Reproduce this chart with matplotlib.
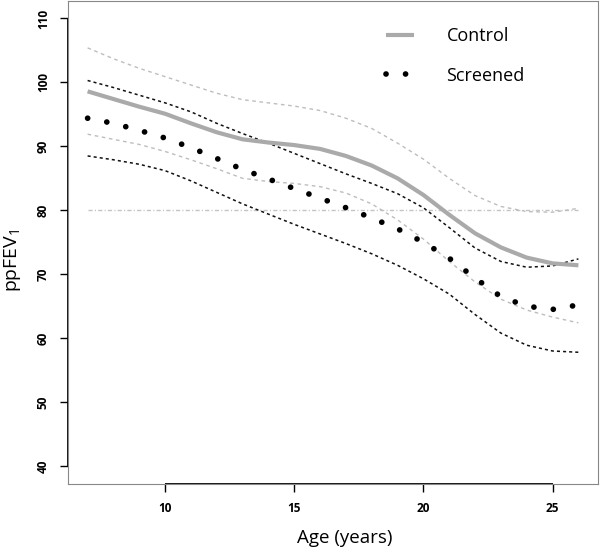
import numpy as np
import matplotlib.pyplot as plt

plt.rcParams['font.family'] = ['Open Sans', 'DejaVu Sans']
plt.rcParams['mathtext.fontset'] = 'custom'
plt.rcParams['mathtext.rm'] = 'Open Sans'
plt.rcParams['mathtext.it'] = 'Open Sans'
plt.rcParams['mathtext.default'] = 'regular'

# --- data (ppFEV1 by age) ---
age = [7, 8, 9, 10, 11, 12, 13, 14, 15, 16, 17, 18, 19, 20, 21, 22, 23, 24, 25, 26]

control = [98.6, 97.4, 96.2, 95.1, 93.6, 92.2, 91.1, 90.6, 90.2, 89.6,
           88.5, 87.0, 85.0, 82.4, 79.3, 76.4, 74.2, 72.6, 71.7, 71.4]
control_upper = [105.4, 103.7, 102.2, 100.9, 99.6, 98.3, 97.3, 96.8, 96.3, 95.6,
                 94.4, 92.8, 90.5, 88.0, 85.0, 82.3, 80.6, 79.8, 79.7, 80.3]
control_lower = [91.9, 91.1, 90.3, 89.2, 87.9, 86.5, 85.0, 84.5, 84.2, 83.7,
                 82.7, 81.0, 78.5, 75.5, 72.0, 68.8, 66.1, 64.4, 63.3, 62.4]

screened = [94.4, 93.6, 92.5, 91.3, 89.8, 88.1, 86.4, 84.9, 83.4, 81.9,
            80.4, 78.8, 77.1, 75.0, 72.5, 69.4, 66.5, 65.0, 64.5, 65.2]
screened_upper = [100.3, 99.2, 98.0, 96.8, 95.4, 93.6, 92.0, 90.5, 88.9, 87.3,
                  85.7, 84.2, 82.6, 80.4, 77.3, 74.1, 72.0, 71.1, 71.3, 72.4]
screened_lower = [88.5, 87.9, 87.2, 86.2, 84.6, 82.8, 81.0, 79.4, 77.8, 76.3,
                  74.8, 73.2, 71.4, 69.3, 66.9, 63.7, 60.8, 58.9, 58.0, 57.8]

ref_age = [7, 26]
ref_value = [80, 80]

x_ticks = [10, 15, 20, 25]
y_ticks = [40, 50, 60, 70, 80, 90, 100, 110]

# --- plotting ---
fig = plt.figure(figsize=(6, 5.5), dpi=100)
ax = fig.add_axes([0.1133, 0.12, 0.8834, 0.879])

# R-style 4% padding around data range
xmin, xmax = 7 - 0.04 * 19, 26 + 0.04 * 19
ymin, ymax = 40 - 0.04 * 70, 110 + 0.04 * 70
ax.set_xlim(xmin, xmax)
ax.set_ylim(ymin, ymax)

ax.plot(ref_age, ref_value, color='#c4c4c4', lw=1.0,
        linestyle=(0, (3.0, 1.6, 0.8, 1.6)))

ax.plot(age, control_upper, color='#bdbdbd', lw=1.0, linestyle=(0, (2.6, 2.6)))
ax.plot(age, control_lower, color='#bdbdbd', lw=1.0, linestyle=(0, (2.6, 2.6)))
ax.plot(age, screened_upper, color='#111111', lw=1.1, linestyle=(0, (2, 2)))
ax.plot(age, screened_lower, color='#111111', lw=1.1, linestyle=(0, (2, 2)))

ln_c, = ax.plot(age, control, color='#aaaaaa', lw=3.0, solid_capstyle='butt')
ln_s, = ax.plot(age, screened, color='black', lw=4.1,
                linestyle=(0, (0.01, 3.42)), dash_capstyle='round')

# frame + R-like axis lines over tick range
for s in ax.spines.values():
    s.set_color('#888888')
    s.set_linewidth(0.8)
ax.plot([x_ticks[0], x_ticks[-1]], [ymin, ymin], color='black', lw=1.3,
        clip_on=False, solid_capstyle='butt')
ax.plot([xmin, xmin], [y_ticks[0], y_ticks[-1]], color='black', lw=1.3,
        clip_on=False, solid_capstyle='butt')

ax.set_xticks(x_ticks)
ax.set_yticks(y_ticks)
ax.tick_params(axis='both', length=6, width=1, color='black', labelsize=8.5)
ax.tick_params(axis='x', pad=7)
ax.tick_params(axis='y', pad=7)
for lab in ax.get_xticklabels():
    lab.set_fontweight('bold')
for lab in ax.get_yticklabels():
    lab.set_fontweight('bold')
    lab.set_rotation(90)
    lab.set_va('center')

ax.set_xlabel('Age (years)', fontsize=13.5)
ax.xaxis.set_label_coords(0.523, -0.093)
ax.set_ylabel('ppFEV$_1$', fontsize=14)
ax.yaxis.set_label_coords(-0.085, 0.463)

ax.legend([ln_c, ln_s], ['Control', 'Screened'], loc='upper left',
          bbox_to_anchor=(0.6, 0.945), frameon=False, fontsize=13,
          handlelength=1.55, handletextpad=1.8, labelspacing=1.2,
          borderpad=0, borderaxespad=0)

fig.savefig('out.png', dpi=100)
